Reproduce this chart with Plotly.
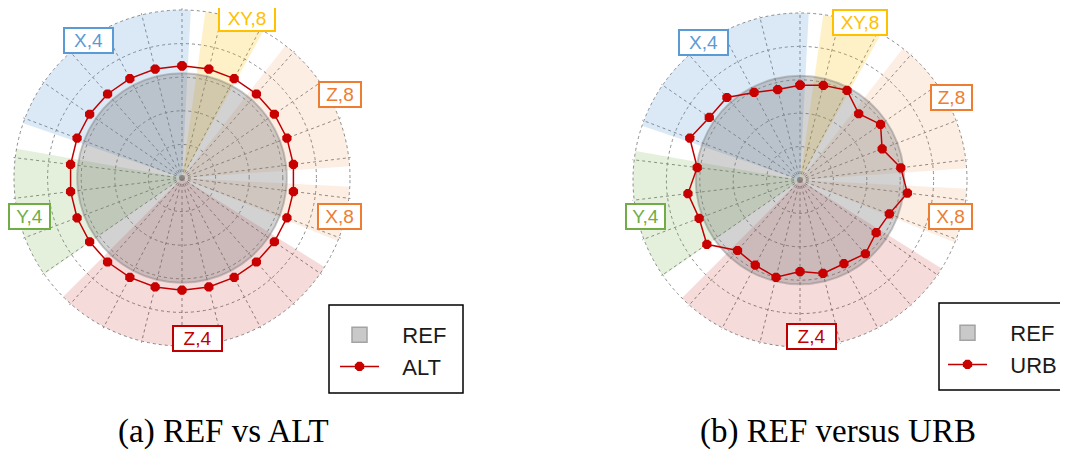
import plotly.graph_objects as go

# ---------------- data ----------------
point_ids = list(range(1, 27))  # 26 radar categories, clockwise from the top

ref_values = [3.12, 3.12, 3.12, 3.12, 3.12, 3.12, 3.12, 3.12, 3.12, 3.12, 3.12, 3.12, 3.12,
              3.12, 3.12, 3.12, 3.12, 3.12, 3.12, 3.12, 3.12, 3.12, 3.12, 3.12, 3.12, 3.12]
alt_values = [3.34, 3.34, 3.34, 3.34, 3.34, 3.34, 3.34, 3.34, 3.34, 3.34, 3.34, 3.34, 3.34,
              3.34, 3.34, 3.34, 3.34, 3.34, 3.34, 3.34, 3.34, 3.34, 3.34, 3.34, 3.34, 3.34]
urb_values = [2.84, 2.92, 3.03, 2.65, 2.93, 2.63, 3.04, 3.24, 2.86, 2.77, 2.95, 2.83, 2.88,
              2.74, 3.00, 2.88, 2.82, 3.39, 3.23, 3.38, 3.10, 3.53, 3.30, 3.30, 2.96, 2.79]

sector_names = ["X,4", "XY,8", "Z,8", "X,8", "Z,4", "Y,4"]
sector_start_deg = [289, 8, 38, 93, 122, 235]
sector_end_deg = [363, 29, 86, 112, 225, 280]

R_MAX = 5          # outer ring of the chart
R_AXIS = 5.05      # axis range (slightly larger so the outer dotted ring shows)

# ---------------- styles ----------------
sector_fill = {
    "X,4": "rgba(91,155,213,0.22)",
    "XY,8": "rgba(255,192,0,0.22)",
    "Z,8": "rgba(237,125,49,0.13)",
    "X,8": "rgba(237,125,49,0.13)",
    "Z,4": "rgba(192,0,0,0.14)",
    "Y,4": "rgba(112,173,71,0.19)",
}
sector_edge = {
    "X,4": "#5B9BD5", "XY,8": "#FFC000", "Z,8": "#ED7D31",
    "X,8": "#ED7D31", "Z,4": "#C00000", "Y,4": "#70AD47",
}

W, H = 1068, 453
OFF = 8  # page body margin: the figure is drawn 8px right/down of the window corner
def px(x):
    return min(1.0, max(0.0, (x - OFF) / W))
def py(y):
    return min(1.0, max(0.0, 1 - (y - OFF) / H))

theta_deg = [(i - 1) * 360 / len(point_ids) for i in point_ids]
NB = "\u00a0\u00a0\u00a0"  # gap between legend symbol and text

panels = [
    dict(polar="polar", legend="legend", name="ALT", values=alt_values),
    dict(polar="polar2", legend="legend2", name="URB", values=urb_values),
]

fig = go.Figure()
for p in panels:
    for nm, s, e in zip(sector_names, sector_start_deg, sector_end_deg):
        fig.add_trace(go.Barpolar(
            r=[R_MAX], theta=[(s + e) / 2], width=[e - s], base=0,
            marker=dict(color=sector_fill[nm], line=dict(width=0)),
            showlegend=False, hoverinfo="skip", subplot=p["polar"]))
    fig.add_trace(go.Scatterpolar(
        r=ref_values + ref_values[:1], theta=theta_deg + theta_deg[:1],
        mode="lines", fill="toself", fillcolor="rgba(118,118,118,0.33)",
        line=dict(color="rgba(110,110,110,0.35)", width=2, shape="spline"),
        showlegend=False, subplot=p["polar"], hoverinfo="skip"))
    fig.add_trace(go.Scatterpolar(
        r=[None], theta=[None], mode="markers", name=NB + "REF",
        marker=dict(symbol="square", size=15, color="#C9C9C9",
                    line=dict(color="#A3A3A3", width=1.5)),
        legend=p["legend"], subplot=p["polar"]))
    v = p["values"]
    fig.add_trace(go.Scatterpolar(
        r=v + v[:1], theta=theta_deg + theta_deg[:1], mode="lines+markers",
        name=NB + p["name"], line=dict(color="#C00000", width=1.5),
        marker=dict(symbol="octagon", size=10, color="#C80000"),
        legend=p["legend"], subplot=p["polar"]))

def polar_layout(cx, cy, r_outer):
    half = r_outer * R_AXIS / R_MAX
    grid = dict(gridcolor="#8c8c8c", griddash="dot", gridwidth=1.3,
                showticklabels=False, ticks="", showline=False)
    return dict(
        domain=dict(x=[px(cx - half), px(cx + half)], y=[py(cy + half), py(cy - half)]),
        bgcolor="rgba(0,0,0,0)",
        radialaxis=dict(range=[0, R_AXIS], tick0=0, dtick=1, **grid),
        angularaxis=dict(rotation=90, direction="clockwise", thetaunit="degrees",
                         tick0=0, dtick=360 / len(point_ids), **grid),
    )

legend_font = dict(family="Liberation Sans, Arial, sans-serif", size=22, color="#1a1a1a")
fig.update_layout(
    width=W, height=H, margin=dict(l=0, r=0, t=0, b=0),
    paper_bgcolor="white", plot_bgcolor="white",
    polar=polar_layout(182, 178, 168),
    polar2=polar_layout(800, 180, 167),
    legend=dict(x=px(335), y=py(314), xanchor="left", yanchor="top",
                bgcolor="rgba(0,0,0,0)", borderwidth=0, font=legend_font,
                itemwidth=39, tracegroupgap=0),
    legend2=dict(x=px(943), y=py(312), xanchor="left", yanchor="top",
                 bgcolor="rgba(0,0,0,0)", borderwidth=0, font=legend_font,
                 itemwidth=39, tracegroupgap=0),
    showlegend=True,
)

# legend frames
for (x0, y0, x1, y1) in [(329, 305, 463, 393), (939, 303, 1069, 390)]:
    fig.add_shape(type="rect", xref="paper", yref="paper",
                  x0=px(x0), x1=px(x1), y0=py(y1), y1=py(y0),
                  line=dict(color="black", width=1.5), fillcolor="rgba(0,0,0,0)", layer="below")

# sector labels
label_pos = [
    # (name, cx, cy, w) left panel
    ("X,4", 88, 40, 51), ("XY,8", 247, 18, 58), ("Z,8", 340, 95, 44),
    ("X,8", 339, 216, 45), ("Y,4", 29, 216, 43), ("Z,4", 197, 338, 51),
    # right panel
    ("X,4", 703, 43, 51), ("XY,8", 860, 22, 56), ("Z,8", 951, 97, 43),
    ("X,8", 950, 216, 45), ("Y,4", 645, 216, 41), ("Z,4", 811, 336, 51),
]
for nm, cx, cy, w in label_pos:
    fig.add_annotation(
        x=px(cx), y=py(cy), xref="paper", yref="paper", text=nm, showarrow=False,
        font=dict(family="Liberation Sans, Arial, sans-serif", size=19, color=sector_edge[nm]),
        bgcolor="white", bordercolor=sector_edge[nm], borderwidth=2, borderpad=0,
        width=w - 4, height=23, xanchor="center", yanchor="middle")

# captions
for txt, cx in [("(a) REF vs ALT", 223), ("(b) REF versus URB", 838)]:
    fig.add_annotation(x=px(cx), y=py(431), xref="paper", yref="paper", text=txt,
                       showarrow=False, xanchor="center", yanchor="middle",
                       font=dict(family="Liberation Serif, Times New Roman, serif", size=33, color="black"))

fig.write_html("out.html")
